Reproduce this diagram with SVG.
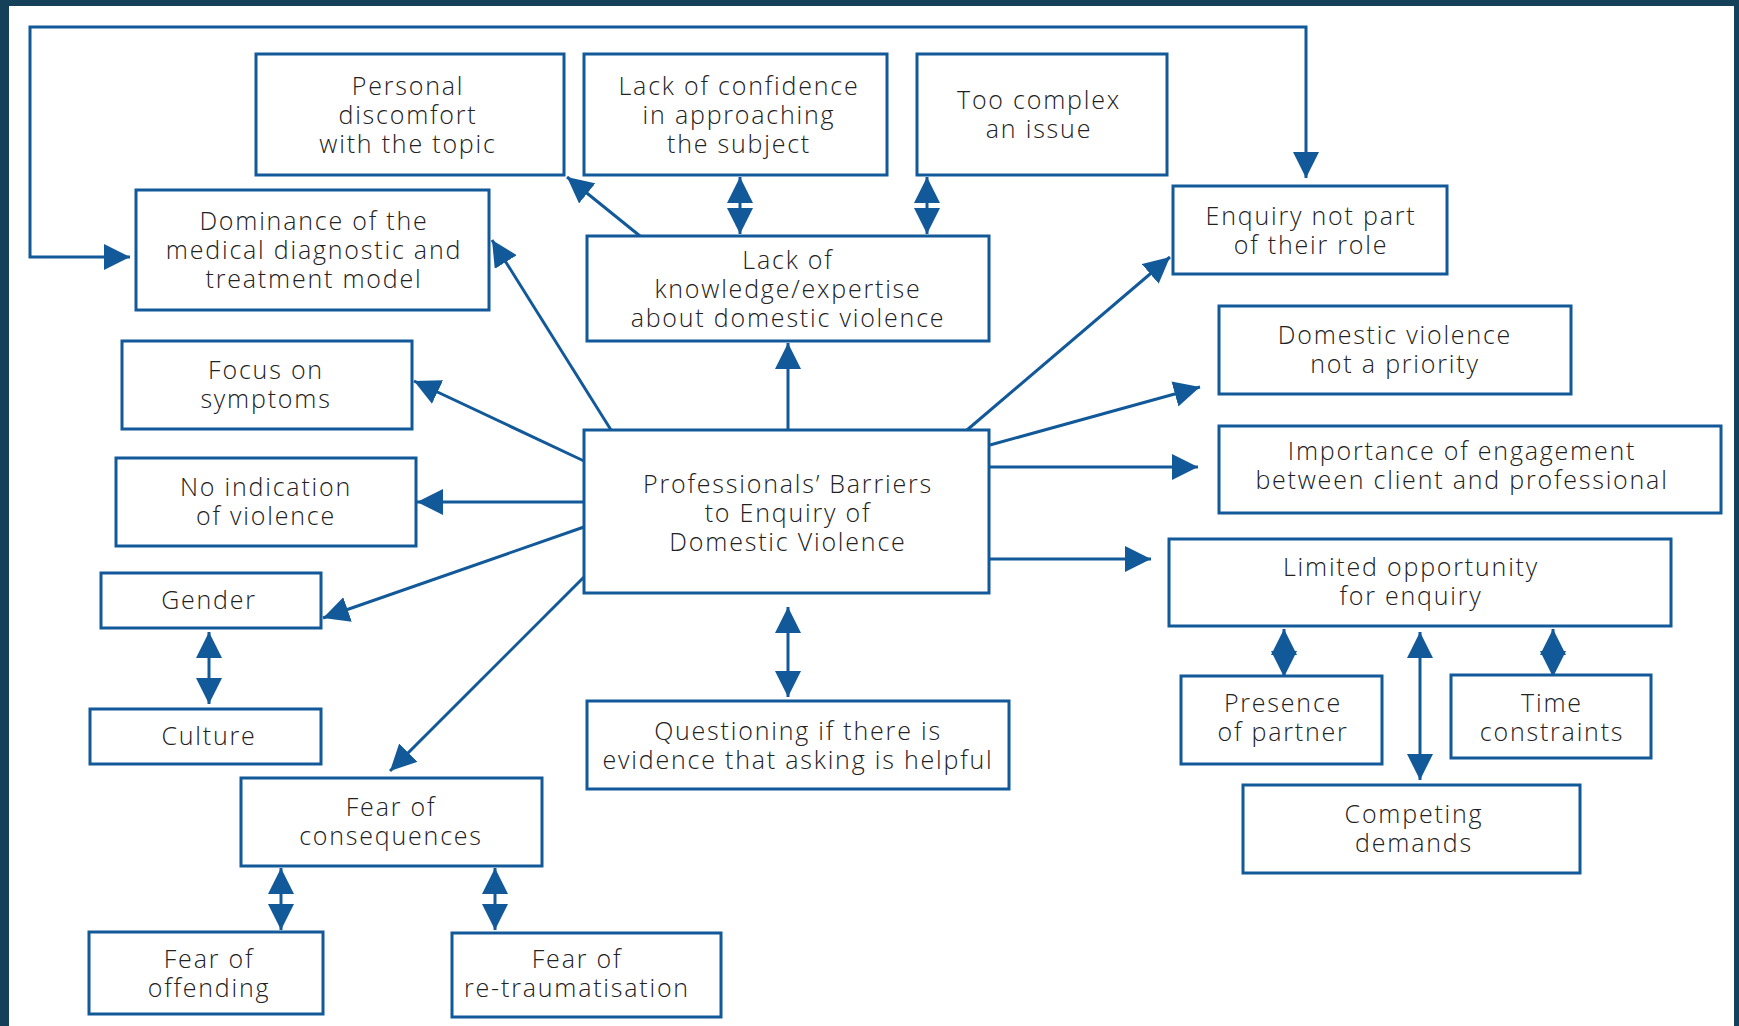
<svg xmlns="http://www.w3.org/2000/svg" width="1739" height="1026" viewBox="0 0 1739 1026">
<defs>
<marker id="ah" markerUnits="userSpaceOnUse" markerWidth="26" markerHeight="26" refX="24" refY="12" orient="auto-start-reverse" viewBox="0 0 24 24">
<path d="M0,0 L24,12 L0,24 z" fill="#12599a"/>
</marker>
<style>
.box{fill:#fff;stroke:#12599a;stroke-width:3}
.t{font-family:"Open Sans","Noto Sans","Liberation Sans",sans-serif;font-size:25px;font-weight:300;letter-spacing:1.8px;fill:#222222;text-anchor:middle}
.c{fill:none;stroke:#12599a;stroke-width:3}
.e{marker-end:url(#ah)}
.b{marker-start:url(#ah);marker-end:url(#ah)}
</style>
</defs>
<rect x="0" y="0" width="1739" height="1026" fill="#15405a"/>
<rect x="9" y="6" width="1725" height="1020" fill="#ffffff"/>

<g id="connectors">
<path class="c b" d="M130,257 H30 V27 H1306 V178"/>
<path class="c e" d="M640,236 L567,177"/>
<path class="c b" d="M740,177 L740,234"/>
<path class="c b" d="M927,177 L927,234"/>
<path class="c e" d="M611,430 L492,240"/>
<path class="c e" d="M788,430 L788,343"/>
<path class="c e" d="M967,430 L1170,257"/>
<path class="c e" d="M990,445 L1200,387"/>
<path class="c e" d="M990,467 L1198,467"/>
<path class="c e" d="M990,559 L1151,559"/>
<path class="c e" d="M584,461 L414,381"/>
<path class="c e" d="M584,502 L417,502"/>
<path class="c e" d="M584,527 L323,618"/>
<path class="c e" d="M584,577 L390,771"/>
<path class="c b" d="M788,607 L788,697"/>
<path class="c b" d="M209,632 L209,704"/>
<path class="c b" d="M281,868 L281,930"/>
<path class="c b" d="M495,868 L495,930"/>
<path class="c b" d="M1284,629 L1284,677"/>
<path class="c b" d="M1553,629 L1553,677"/>
<path class="c b" d="M1420,632 L1420,780"/>
</g>

<g id="personal-discomfort">
<rect class="box" x="256" y="54" width="308" height="121"/>
<text class="t" x="408" y="95">Personal</text>
<text class="t" x="408" y="124">discomfort</text>
<text class="t" x="408" y="153">with the topic</text>
</g>
<g id="lack-of-confidence">
<rect class="box" x="584" y="54" width="303" height="121"/>
<text class="t" x="739" y="95">Lack of confidence</text>
<text class="t" x="739" y="124">in approaching</text>
<text class="t" x="739" y="153">the subject</text>
</g>
<g id="too-complex">
<rect class="box" x="917" y="54" width="250" height="121"/>
<text class="t" x="1039" y="109">Too complex</text>
<text class="t" x="1039" y="138">an issue</text>
</g>
<g id="dominance">
<rect class="box" x="136" y="190" width="353" height="120"/>
<text class="t" x="314" y="230">Dominance of the</text>
<text class="t" x="314" y="259">medical diagnostic and</text>
<text class="t" x="314" y="288">treatment model</text>
</g>
<g id="lack-of-knowledge">
<rect class="box" x="587" y="236" width="402" height="105"/>
<text class="t" x="788" y="269">Lack of</text>
<text class="t" x="788" y="298">knowledge/expertise</text>
<text class="t" x="788" y="327">about domestic violence</text>
</g>
<g id="enquiry-not-part">
<rect class="box" x="1173" y="186" width="274" height="88"/>
<text class="t" x="1311" y="225">Enquiry not part</text>
<text class="t" x="1311" y="254">of their role</text>
</g>
<g id="dv-not-priority">
<rect class="box" x="1219" y="306" width="352" height="88"/>
<text class="t" x="1395" y="344">Domestic violence</text>
<text class="t" x="1395" y="373">not a priority</text>
</g>
<g id="importance-engagement">
<rect class="box" x="1219" y="426" width="502" height="87"/>
<text class="t" x="1462" y="460">Importance of engagement</text>
<text class="t" x="1462" y="489">between client and professional</text>
</g>
<g id="limited-opportunity">
<rect class="box" x="1169" y="539" width="502" height="87"/>
<text class="t" x="1411" y="576">Limited opportunity</text>
<text class="t" x="1411" y="605">for enquiry</text>
</g>
<g id="presence-partner">
<rect class="box" x="1181" y="676" width="201" height="88"/>
<text class="t" x="1283" y="712">Presence</text>
<text class="t" x="1283" y="741">of partner</text>
</g>
<g id="time-constraints">
<rect class="box" x="1451" y="675" width="200" height="83"/>
<text class="t" x="1552" y="712">Time</text>
<text class="t" x="1552" y="741">constraints</text>
</g>
<g id="competing-demands">
<rect class="box" x="1243" y="785" width="337" height="88"/>
<text class="t" x="1414" y="823">Competing</text>
<text class="t" x="1414" y="852">demands</text>
</g>
<g id="focus-symptoms">
<rect class="box" x="122" y="341" width="290" height="88"/>
<text class="t" x="266" y="379">Focus on</text>
<text class="t" x="266" y="408">symptoms</text>
</g>
<g id="no-indication">
<rect class="box" x="116" y="458" width="300" height="88"/>
<text class="t" x="266" y="496">No indication</text>
<text class="t" x="266" y="525">of violence</text>
</g>
<g id="gender">
<rect class="box" x="101" y="573" width="220" height="55"/>
<text class="t" x="209" y="609">Gender</text>
</g>
<g id="culture">
<rect class="box" x="90" y="709" width="231" height="55"/>
<text class="t" x="209" y="745">Culture</text>
</g>
<g id="professionals-barriers">
<rect class="box" x="584" y="430" width="405" height="163"/>
<text class="t" x="788" y="493">Professionals’ Barriers</text>
<text class="t" x="788" y="522">to Enquiry of</text>
<text class="t" x="788" y="551">Domestic Violence</text>
</g>
<g id="questioning">
<rect class="box" x="587" y="701" width="422" height="88"/>
<text class="t" x="798" y="740">Questioning if there is</text>
<text class="t" x="798" y="769">evidence that asking is helpful</text>
</g>
<g id="fear-consequences">
<rect class="box" x="241" y="778" width="301" height="88"/>
<text class="t" x="391" y="816">Fear of</text>
<text class="t" x="391" y="845">consequences</text>
</g>
<g id="fear-offending">
<rect class="box" x="89" y="932" width="234" height="82"/>
<text class="t" x="209" y="968">Fear of</text>
<text class="t" x="209" y="997">offending</text>
</g>
<g id="fear-retraumatisation">
<rect class="box" x="452" y="933" width="269" height="84"/>
<text class="t" x="577" y="968">Fear of</text>
<text class="t" x="577" y="997">re-traumatisation</text>
</g>
</svg>
